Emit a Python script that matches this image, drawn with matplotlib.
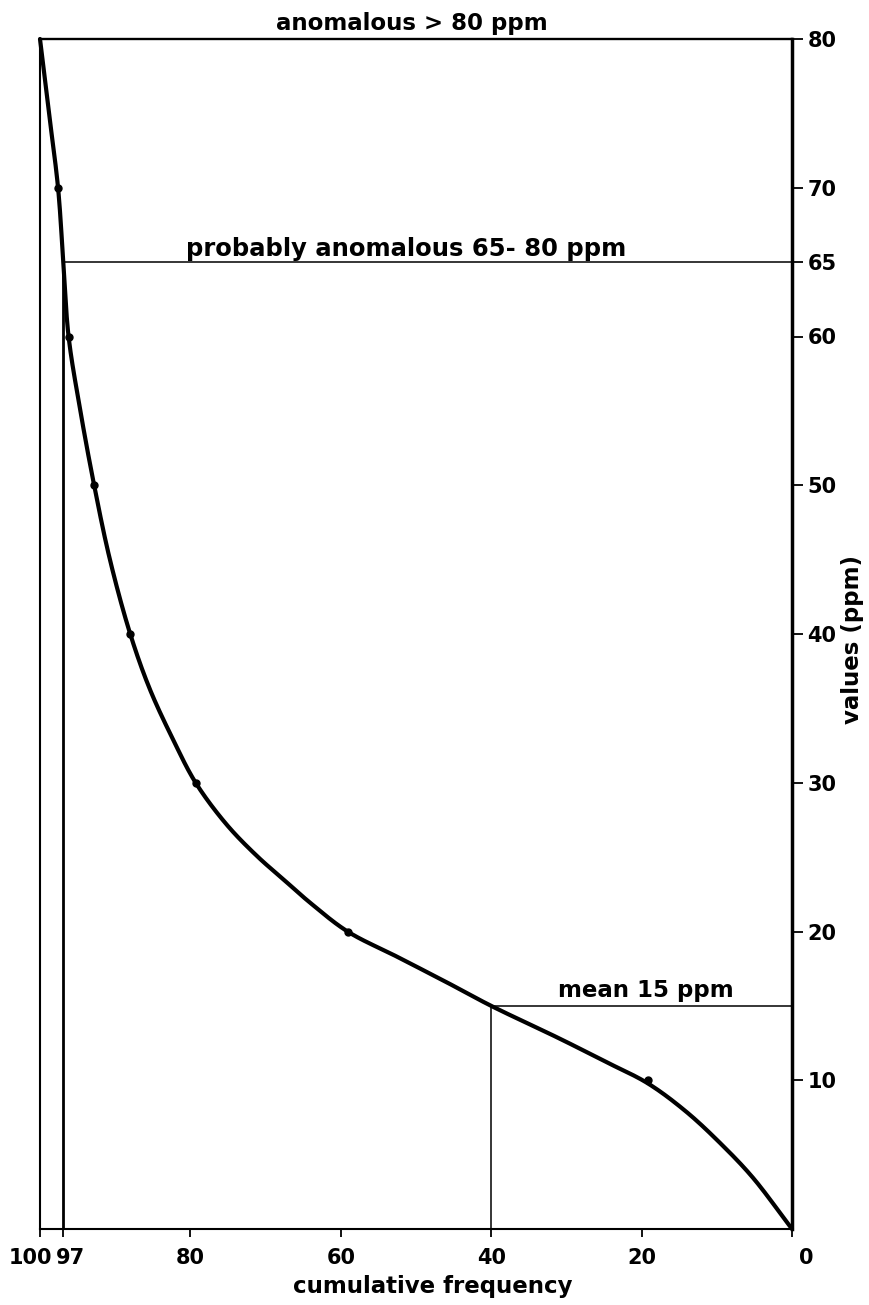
import matplotlib
matplotlib.use("Agg")
import numpy as np
import matplotlib.pyplot as plt
from matplotlib.transforms import ScaledTranslation

# ---- data ----
# curve traced through the chart (cumulative frequency %, value ppm)
curve_freq = [100.0, 98.8, 97.6, 96.9, 96.2, 94.7, 92.8, 90.7, 88.0, 85.4,
              82.3, 79.3, 75.2, 71.2, 67.4, 64.0, 59.1, 52.5, 45.6, 40.0,
              30.9, 24.6, 19.2, 14.1, 9.4, 5.2, 0.0]
curve_ppm = [80.0, 75.0, 70.0, 65.0, 60.0, 55.2, 50.0, 45.0, 40.0, 36.3,
             32.9, 30.0, 27.2, 25.1, 23.4, 21.9, 20.0, 18.3, 16.5, 15.0,
             12.8, 11.2, 9.8, 7.9, 5.7, 3.45, 0.0]

# plotted observation points
point_freq = [97.6, 96.2, 92.8, 88.0, 79.3, 59.1, 19.2]
point_ppm = [70, 60, 50, 40, 30, 20, 10]

# thresholds
threshold_freq = 97
threshold_ppm = 65
mean_freq = 40
mean_ppm = 15

x_ticks = [100, 97, 80, 60, 40, 20, 0]
x_tick_labels = ["100", "97", "80", "60", "40", "20", "0"]
y_ticks = [10, 20, 30, 40, 50, 60, 65, 70, 80]
y_tick_labels = ["10", "20", "30", "40", "50", "60", "65", "70", "80"]

plt.rcParams['font.family'] = ['DejaVu Sans']
plt.rcParams['font.weight'] = 'bold'

W, H = 869, 1305
fig = plt.figure(figsize=(W / 100, H / 100), dpi=100)
ax = fig.add_axes([40 / W, 1 - 1229 / H, (792 - 40) / W, (1229 - 39) / H])

ax.set_xlim(100, 0)
ax.set_ylim(0, 80)


def smooth_line(xs, ys, sx, sy, n=24):
    """Centripetal Catmull-Rom rendering of a hand-drawn curve through the points."""
    P = np.column_stack([np.asarray(xs) * sx, np.asarray(ys) * sy])
    P = np.vstack([2 * P[0] - P[1], P, 2 * P[-1] - P[-2]])
    out = []
    for i in range(1, len(P) - 2):
        p0, p1, p2, p3 = P[i - 1], P[i], P[i + 1], P[i + 2]
        t0 = 0.0
        t1 = t0 + np.linalg.norm(p1 - p0) ** 0.5
        t2 = t1 + np.linalg.norm(p2 - p1) ** 0.5
        t3 = t2 + np.linalg.norm(p3 - p2) ** 0.5
        t = np.linspace(t1, t2, n)[:, None]
        a1 = (t1 - t) / (t1 - t0) * p0 + (t - t0) / (t1 - t0) * p1
        a2 = (t2 - t) / (t2 - t1) * p1 + (t - t1) / (t2 - t1) * p2
        a3 = (t3 - t) / (t3 - t2) * p2 + (t - t2) / (t3 - t2) * p3
        b1 = (t2 - t) / (t2 - t0) * a1 + (t - t0) / (t2 - t0) * a2
        b2 = (t3 - t) / (t3 - t1) * a2 + (t - t1) / (t3 - t1) * a3
        c = (t2 - t) / (t2 - t1) * b1 + (t - t1) / (t2 - t1) * b2
        out.append(c if i == 1 else c[1:])
    C = np.vstack(out)
    return C[:, 0] / sx, C[:, 1] / sy


# pixel-per-unit aspect used only for the smooth rendering
sx, sy = 7.52, 14.86
cx, cy = smooth_line(curve_freq, curve_ppm, sx, sy)

# curve and points
ax.plot(cx, cy, color='black', lw=3.0, solid_capstyle='round',
        solid_joinstyle='round', zorder=4, clip_on=False)
ax.plot(point_freq, point_ppm, 'o', color='black', ms=5, zorder=5)

# threshold lines
ax.plot([threshold_freq, threshold_freq], [0, threshold_ppm], color='black', lw=2.0, zorder=3)
ax.plot([threshold_freq, 0], [threshold_ppm, threshold_ppm], color='black', lw=1.1, zorder=3)
ax.plot([mean_freq, mean_freq], [0, mean_ppm], color='black', lw=1.1, zorder=3)
ax.plot([mean_freq, 0], [mean_ppm, mean_ppm], color='black', lw=1.1, zorder=3)

# spines
for side, lw in [('left', 1.5), ('bottom', 1.5), ('top', 1.7), ('right', 2.5)]:
    ax.spines[side].set_linewidth(lw)
    ax.spines[side].set_color('black')

# ticks
ax.set_xticks(x_ticks)
ax.set_xticklabels(x_tick_labels, fontweight='bold')
ax.yaxis.tick_right()
ax.set_yticks(y_ticks)
ax.set_yticklabels(y_tick_labels, fontweight='bold')
ax.tick_params(axis='x', direction='out', length=6, width=1.3, pad=8, labelsize=15)
ax.tick_params(axis='y', direction='out', length=8, width=1.3, pad=3, labelsize=15)

offsets = {"100": -10, "97": 8, "0": 14}
for lab in ax.get_xticklabels():
    t = lab.get_text()
    if t in offsets:
        lab.set_transform(lab.get_transform() +
                          ScaledTranslation(offsets[t] / 100, 0, fig.dpi_scale_trans))

# annotations
ax.text(50.5, 80.3, "anomalous > 80 ppm", ha='center', va='bottom', fontsize=16.5,
        fontweight='bold', clip_on=False)
ax.text(51.3, 65.1, "probably anomalous 65- 80 ppm", ha='center', va='bottom',
        fontsize=17.5, fontweight='bold')
ax.text(19.4, 15.25, "mean 15 ppm", ha='center', va='bottom', fontsize=16.5,
        fontweight='bold')

fig.text(433 / W, 1 - 1287 / H, "cumulative frequency", ha='center', va='center',
         fontsize=16.5, fontweight='bold')
fig.text(853 / W, 1 - 640 / H, "values (ppm)", ha='center', va='center', rotation=90,
         fontsize=16.5, fontweight='bold')

fig.savefig("out.png", dpi=100, facecolor='white')
